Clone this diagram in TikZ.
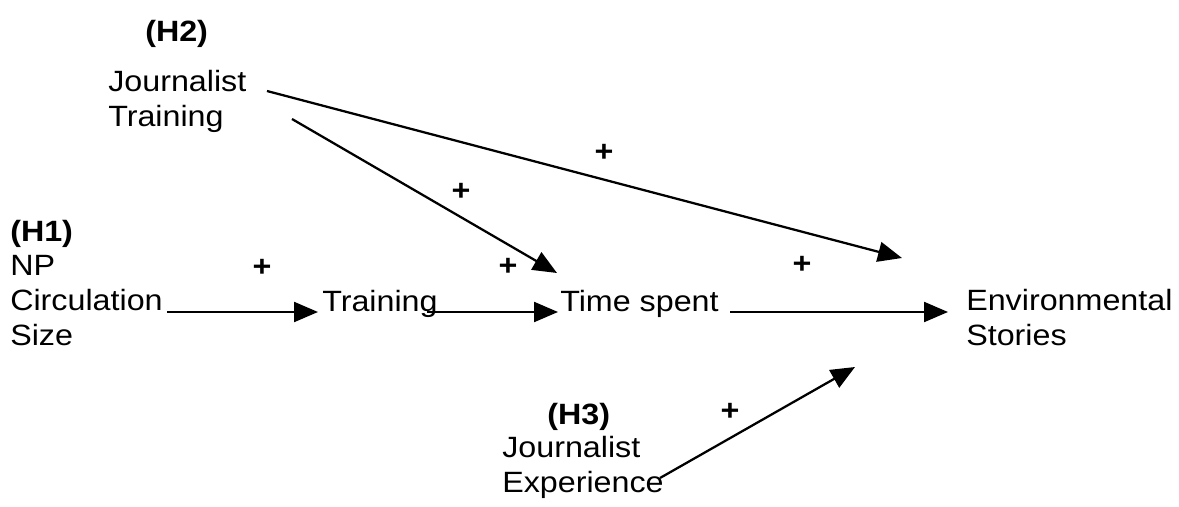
\documentclass[tikz,border=0pt]{standalone}
\usepackage{fontspec}
\setmainfont{Liberation Sans}[FakeStretch=1.10]
\usetikzlibrary{arrows.meta}
\begin{document}
\begin{tikzpicture}[x=0.75pt,y=-0.75pt,
  lbl/.style={inner sep=0pt,align=left,font=\fontsize{22pt}{26pt}\selectfont},
  hyp/.style={inner sep=0pt,font=\fontsize{22pt}{26pt}\selectfont\bfseries},
  plus/.style={inner sep=0pt,font=\fontsize{22pt}{22pt}\selectfont\bfseries},
  arr/.style={line width=1.7pt,-{Triangle[length=18pt,width=15pt]}}]
\useasboundingbox (0,0) rectangle (1179,507);
% nodes
\node[hyp,anchor=base west] (h2) at (145,41) {(H2)};
\node[lbl,anchor=base west] (jt) at (108,126) {Journalist\\Training};
\node[lbl,anchor=base west] (h1) at (10,345) {\textbf{(H1)}\\NP\\Circulation\\Size};
\node[lbl,anchor=base west] (tr) at (322,311) {Training};
\node[lbl,anchor=base west] (ts) at (560,311) {Time spent};
\node[lbl,anchor=base west] (es) at (966,345) {Environmental\\Stories};
\node[hyp,anchor=base west] (h3) at (547,424) {(H3)};
\node[lbl,anchor=base west] (je) at (502,492) {Journalist\\Experience};
% free ends
\coordinate (c1s) at (167,312);
\coordinate (c1e) at (318,312);
\coordinate (c2s) at (427,312);
\coordinate (c2e) at (558,312);
\coordinate (c3s) at (730,312);
\coordinate (c3e) at (948,312);
\coordinate (c4s) at (267,91);
\coordinate (c4e) at (902,258);
\coordinate (c5s) at (292,119);
\coordinate (c5e) at (557,273);
\coordinate (c6s) at (660,478);
\coordinate (c6e) at (855,367);
% connectors
\draw[arr] (c1s) -- (c1e);
\draw[arr] (c2s) -- (c2e);
\draw[arr] (c3s) -- (c3e);
\draw[arr] (c4s) -- (c4e);
\draw[arr] (c5s) -- (c5e);
\draw[arr] (c6s) -- (c6e);
% signs
\node[plus] (p1) at (262,268) {+};
\node[plus] (p2) at (508,267) {+};
\node[plus] (p3) at (461,192) {+};
\node[plus] (p4) at (604,153) {+};
\node[plus] (p5) at (802,265) {+};
\node[plus] (p6) at (730,412) {+};
\end{tikzpicture}
\end{document}
